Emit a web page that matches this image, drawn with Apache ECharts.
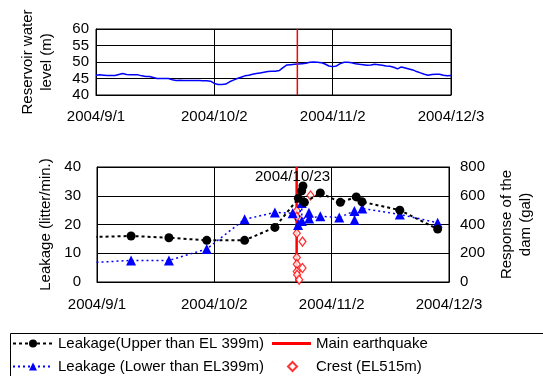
<!DOCTYPE html>
<html>
<head>
<meta charset="utf-8">
<script src="https://cdn.jsdelivr.net/npm/echarts@6/dist/echarts.min.js"></script>
<style>
html,body{margin:0;padding:0;background:#fff;}
#c{width:543px;height:376px;}
</style>
</head>
<body>
<div id="c"></div>
<script>
// ---------- data ----------
const xTickLabels = ['2004/9/1', '2004/10/2', '2004/11/2', '2004/12/3'];
const startDate = '2004-09-01';
const endDate = '2004-12-03';
const quakeTime = '2004-10-23 17:56';
const quakeLabel = '2004/10/23';

// daily reservoir water level (m) from 2004/9/1
const waterLevel = [
  46.0, 46.1, 46.0, 45.9, 45.9, 45.9, 46.2, 46.5, 46.2, 46.1,
  46.1, 46.1, 45.8, 45.6, 45.6, 45.3, 45.0, 45.0, 45.0, 45.0,
  44.6, 44.4, 44.5, 44.4, 44.4, 44.4, 44.4, 44.4, 44.3, 44.3,
  44.2, 43.5, 43.2, 43.2, 43.3, 44.0, 44.5, 45.0, 45.4, 45.8,
  46.0, 46.3, 46.5, 46.7, 46.9, 47.1, 47.2, 47.2, 47.4, 48.3,
  49.1, 49.2, 49.3, 49.4, 49.5, 49.6, 49.9, 50.0, 49.9, 49.8,
  49.4, 48.8, 48.6, 48.8, 49.5, 49.9, 49.9, 49.8, 49.5, 49.3,
  49.2, 49.0, 49.1, 49.3, 49.2, 49.0, 48.8, 48.7, 48.4, 47.9,
  48.5, 48.2, 47.9, 47.6, 47.1, 46.7, 46.3, 46.0, 46.2, 46.3,
  46.3, 46.0, 45.8, 45.9
];

// Leakage (Upper than EL 399m), litter/min.
const upperDates = ['2004-08-20', '2004-09-10', '2004-09-20', '2004-09-30', '2004-10-10', '2004-10-18',
  '2004-10-24 05:00', '2004-10-25 02:00', '2004-10-25 10:00', '2004-10-25 19:00', '2004-10-30 00:00',
  '2004-11-04 07:00', '2004-11-08 12:00', '2004-11-10 00:00', '2004-11-20', '2004-11-30'];
const upperValues = [15.3, 16.0, 15.4, 14.5, 14.5, 19.0, 29.1, 31.7, 33.4, 27.7, 31.0, 27.7, 29.6, 27.9, 25.0, 18.4];

// Leakage (Lower than EL399m), litter/min.
const lowerDates = ['2004-08-20', '2004-09-10', '2004-09-20', '2004-09-30', '2004-10-10', '2004-10-18',
  '2004-10-22 17:00', '2004-10-24 03:00', '2004-10-25 02:00', '2004-10-25 03:00', '2004-10-27 00:00',
  '2004-10-27 01:00', '2004-10-30 00:00', '2004-11-04 00:00', '2004-11-08 00:00', '2004-11-08 01:00',
  '2004-11-10 02:00', '2004-11-20', '2004-11-30'];
const lowerValues = [6.0, 7.5, 7.5, 11.5, 21.8, 24.2, 23.9, 19.8, 27.5, 21.2, 24.1, 22.1, 22.9, 22.4, 24.7, 21.6, 25.6, 23.5, 20.6];

// Crest (EL515m) response, gal
const crestDates = ['2004-10-23 19:00', '2004-10-23 19:00', '2004-10-23 19:00', '2004-10-23 19:00',
  '2004-10-23 19:00', '2004-10-23 19:00', '2004-10-23 21:00', '2004-10-24 10:00', '2004-10-25 07:00',
  '2004-10-25 07:00', '2004-10-27 10:00'];
const crestValues = [496, 454, 339, 170, 124, 73, 50, 16, 281, 97, 602];

// ---------- helpers ----------
function toUTC(s) {
  const parts = s.split(' ');
  const d = parts[0].split('-').map(Number);
  const t = parts[1] ? parts[1].split(':').map(Number) : [0, 0];
  return Date.UTC(d[0], d[1] - 1, d[2], t[0], t[1]);
}
const t0 = toUTC(startDate);
const dayOf = s => (toUTC(s) - t0) / 86400000;
const xMax = dayOf(endDate);            // 93
const xStep = xMax / (xTickLabels.length - 1); // 31
const qx = dayOf(quakeTime);

const FONT = "'Liberation Sans', Arial, sans-serif";
const txt = {color: '#000', fontSize: 15, fontFamily: FONT};

const waterData = waterLevel.map((v, i) => [i, v]);
const upperData = upperDates.map((d, i) => {
  const x = dayOf(d);
  return x < 0 ? {value: [x, upperValues[i]], symbol: 'none'} : [x, upperValues[i]];
});
const lowerData = lowerDates.map((d, i) => {
  const x = dayOf(d);
  return x < 0 ? {value: [x, lowerValues[i]], symbol: 'none'} : [x, lowerValues[i]];
});
const crestData = crestDates.map((d, i) => [dayOf(d), crestValues[i]]);

const NAME_UP = 'Leakage(Upper than EL 399m)';
const NAME_LOW = 'Leakage (Lower than EL399m)';
const NAME_EQ = 'Main earthquake';
const NAME_CREST = 'Crest (EL515m)';

function xAxis(gridIndex, margin) {
  return {
    type: 'value', gridIndex, min: 0, max: xMax, interval: xStep,
    axisLine: {show: true, onZero: false, lineStyle: {color: '#000', width: 1}},
    axisTick: {show: false},
    splitLine: {show: true, lineStyle: {color: '#000', width: 1}},
    axisLabel: Object.assign({margin, formatter: v => xTickLabels[Math.round(v / xStep)] || ''}, txt)
  };
}
function legend(name, left, top, extra) {
  return Object.assign({
    data: [name], left, top, orient: 'horizontal',
    itemWidth: 40, itemHeight: 10, itemGap: 0, padding: 0,
    textStyle: txt, selectedMode: false
  }, extra || {});
}

const chart = echarts.init(document.getElementById('c'), null, {renderer: 'canvas'});
chart.setOption({
  animation: false,
  backgroundColor: '#fff',
  grid: [
    {left: 96, top: 29, width: 355, height: 66, show: true, borderColor: '#000', borderWidth: 1, containLabel: false},
    {left: 97, top: 167, width: 365, height: 115, show: true, borderColor: '#000', borderWidth: 1, containLabel: false}
  ],
  xAxis: [xAxis(0, 14), xAxis(1, 15)],
  yAxis: [
    {
      type: 'value', gridIndex: 0, min: 40, max: 60, interval: 5,
      axisLine: {show: true, lineStyle: {color: '#000'}},
      axisTick: {show: false},
      splitLine: {show: true, lineStyle: {color: '#000', width: 1}},
      axisLabel: Object.assign({margin: 7}, txt),
      name: 'Reservoir water\nlevel (m)', nameLocation: 'middle', nameGap: 40,
      nameTextStyle: Object.assign({lineHeight: 19}, txt)
    },
    {
      type: 'value', gridIndex: 1, min: 0, max: 40, interval: 10,
      axisLine: {show: true, lineStyle: {color: '#000'}},
      axisTick: {show: false},
      splitLine: {show: true, lineStyle: {color: '#000', width: 1}},
      axisLabel: Object.assign({margin: 16}, txt),
      name: 'Leakage (litter/min.)', nameLocation: 'middle', nameGap: 37,
      nameTextStyle: Object.assign({}, txt)
    },
    {
      type: 'value', gridIndex: 1, position: 'right', min: 0, max: 800, interval: 200,
      axisLine: {show: true, lineStyle: {color: '#000'}},
      axisTick: {show: false},
      splitLine: {show: false},
      axisLabel: Object.assign({margin: 11}, txt),
      name: 'Response of the\ndam (gal)', nameLocation: 'middle', nameGap: 48,
      nameTextStyle: Object.assign({lineHeight: 19}, txt)
    }
  ],
  legend: [
    legend(NAME_UP, 12, 336),
    legend(NAME_EQ, 272, 336, {itemHeight: 3, icon: 'rect', itemWidth: 39}),
    legend(NAME_LOW, 12, 359),
    legend(NAME_CREST, 287, 359, {itemWidth: 9, itemHeight: 9,
      textStyle: Object.assign({padding: [0, 0, 0, 14]}, txt)})
  ],
  graphic: [
    {type: 'rect', left: 8, top: 331, shape: {x: 0, y: 0, width: 600, height: 100},
      style: {fill: 'none', stroke: '#000', lineWidth: 1}, z: 100, silent: true},
    {type: 'text', left: 255, top: 169, style: {text: quakeLabel, fill: '#000', font: "15px 'Liberation Sans', Arial"}, z: 100}
  ],
  series: [
    {
      name: 'Reservoir water level', type: 'line', xAxisIndex: 0, yAxisIndex: 0,
      data: waterData, showSymbol: false, symbol: 'none',
      lineStyle: {color: '#0000FF', width: 1.5}, z: 3
    },
    {
      name: NAME_EQ, type: 'line', xAxisIndex: 0, yAxisIndex: 0,
      data: [[qx, 40], [qx, 60]], symbol: 'none',
      lineStyle: {color: '#FF0000', width: 1.5}, itemStyle: {color: '#FF0000'}, z: 4
    },
    {
      name: NAME_EQ, type: 'line', xAxisIndex: 1, yAxisIndex: 1,
      data: [[qx, 0], [qx, 40]], symbol: 'none',
      lineStyle: {color: '#FF0000', width: 2.5}, itemStyle: {color: '#FF0000'}, z: 2
    },
    {
      name: NAME_LOW, type: 'line', xAxisIndex: 1, yAxisIndex: 1,
      data: lowerData, symbol: 'triangle', symbolSize: 10, clip: true,
      itemStyle: {color: '#0000FF'},
      lineStyle: {color: '#0000FF', width: 1.5, type: [2, 3]}, z: 5
    },
    {
      name: NAME_UP, type: 'line', xAxisIndex: 1, yAxisIndex: 1,
      data: upperData, symbol: 'circle', symbolSize: 9, clip: true,
      itemStyle: {color: '#000'},
      lineStyle: {color: '#000', width: 2, type: [3, 3]}, z: 6
    },
    {
      name: NAME_CREST, type: 'scatter', xAxisIndex: 1, yAxisIndex: 2,
      data: crestData, symbol: 'diamond', symbolSize: [7, 9],
      itemStyle: {color: '#fff', borderColor: '#FF0000', borderWidth: 1.3}, z: 4
    }
  ]
});
</script>
</body>
</html>
